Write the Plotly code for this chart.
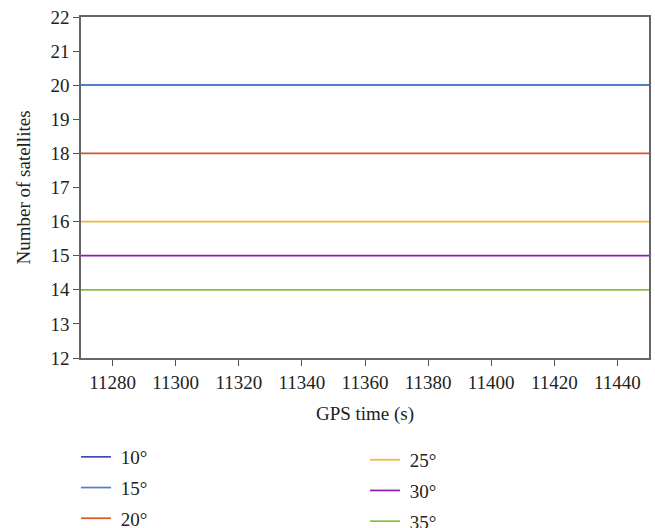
import plotly.graph_objects as go

# GPS epochs (s) and visible-satellite counts per elevation cut-off
gps_time = [11268, 11318, 11368, 11418, 11468]
cutoff_labels = ["10°", "15°", "20°", "25°", "30°", "35°"]
sat_10 = [20, 20, 20, 20, 20]
sat_15 = [20, 20, 20, 20, 20]
sat_20 = [18, 18, 18, 18, 18]
sat_25 = [16, 16, 16, 16, 16]
sat_30 = [15, 15, 15, 15, 15]
sat_35 = [14, 14, 14, 14, 14]
series = [sat_10, sat_15, sat_20, sat_25, sat_30, sat_35]
x_ticks = [11280, 11300, 11320, 11340, 11360, 11380, 11400, 11420, 11440]

colors = ["#3b4db3", "#4a80c8", "#d9532b", "#f0b93a", "#8a1cb4", "#8cbf3f"]
legend_ids = ["legend", "legend", "legend", "legend2", "legend2", "legend2"]

FONT = "Liberation Serif, Times New Roman, serif"
W, H = 655, 528

fig = go.Figure()
for name, vals, col, lg in zip(cutoff_labels, series, colors, legend_ids):
    fig.add_trace(go.Scatter(
        x=gps_time, y=vals, name="\u00a0" + name, mode="lines",
        line=dict(color=col, width=1.7),
        legend=lg, legendgroup=name,
    ))

legend_common = dict(
    orientation="v", font=dict(family=FONT, size=19, color="#222"),
    bgcolor="rgba(0,0,0,0)", tracegroupgap=3,
    xanchor="left", yanchor="top",
)

fig.update_layout(
    width=W, height=H,
    margin=dict(l=81, r=6, t=17, b=170, autoexpand=False),
    paper_bgcolor="white", plot_bgcolor="white",
    font=dict(family=FONT, size=19, color="#222"),
    showlegend=True,
    legend=dict(x=-0.0088, y=-0.2346, **legend_common),
    legend2=dict(x=0.5, y=-0.2431, **legend_common),
    xaxis=dict(
        range=[11270, 11450], tickmode="array", tickvals=x_ticks,
        ticktext=[str(v) for v in x_ticks],
        ticks="outside", ticklen=6, tickcolor="#555", tickwidth=1,
        showline=True, linecolor="#666", linewidth=1.5, mirror=True,
        showgrid=False, zeroline=False,
        title=dict(text="GPS time (s)", font=dict(family=FONT, size=19)),
        tickfont=dict(family=FONT, size=19, color="#222"),
    ),
    yaxis=dict(
        range=[12, 22], dtick=1,
        ticks="outside", ticklen=6, tickcolor="#555", tickwidth=1,
        showline=True, linecolor="#666", linewidth=1.5, mirror=True,
        showgrid=False, zeroline=False,
        title=dict(text="Number of satellites", font=dict(family=FONT, size=19)),
        tickfont=dict(family=FONT, size=19, color="#222"),
    ),
)

fig.write_html("out.html")
